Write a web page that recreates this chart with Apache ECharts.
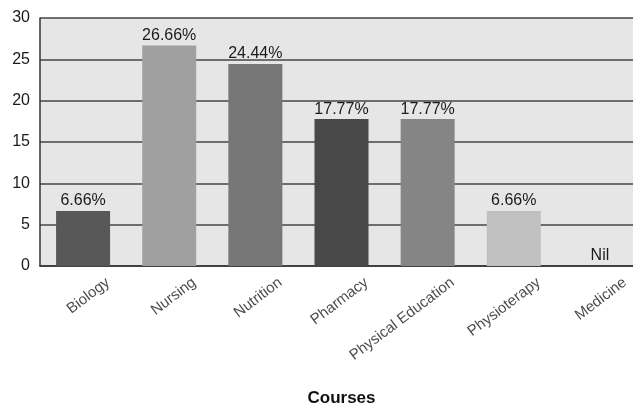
<!DOCTYPE html>
<html>
<head>
<meta charset="utf-8">
<script src="https://cdn.jsdelivr.net/npm/echarts@6/dist/echarts.min.js"></script>
<style>
  html, body { margin: 0; padding: 0; background: #ffffff; }
  #chart { width: 633px; height: 407px; }
</style>
</head>
<body>
<div id="chart"></div>
<script>
// Share of students by course (percent)
const courses = ['Biology', 'Nursing', 'Nutrition', 'Pharmacy', 'Physical Education', 'Physioterapy', 'Medicine'];
const shares = [6.66, 26.66, 24.44, 17.77, 17.77, 6.66, 0];
const barColors = ['#585858', '#a0a0a0', '#777777', '#484848', '#858585', '#c0c0c0', '#9a9a9a'];
const yTicks = [0, 5, 10, 15, 20, 25, 30];

const font = 'Liberation Sans, Arial, Helvetica, sans-serif';
const chart = echarts.init(document.getElementById('chart'), null, { renderer: 'canvas' });

// slant of the course names; the label offset is given in the rotated frame,
// so turn the wanted screen shift (right, down) into that frame
const slant = 37;
const shift = [25, 15];
const rad = slant * Math.PI / 180;
const localOffset = [
  shift[0] * Math.cos(rad) - shift[1] * Math.sin(rad),
  shift[0] * Math.sin(rad) + shift[1] * Math.cos(rad)
];

chart.setOption({
  animation: false,
  backgroundColor: '#ffffff',
  grid: {
    left: 40, right: -10, top: 18, bottom: 141,
    outerBoundsMode: 'none', containLabel: false,
    show: true, backgroundColor: '#e6e6e6', borderWidth: 0
  },
  xAxis: {
    type: 'category',
    data: courses,
    name: 'Courses',
    nameLocation: 'middle',
    nameGap: 124,
    nameTextStyle: { fontFamily: font, fontSize: 17, fontWeight: 'bold', color: '#111' },
    axisLine: { show: true, lineStyle: { color: '#333', width: 1.5 } },
    axisTick: { show: false },
    axisLabel: { show: false }
  },
  yAxis: {
    type: 'value',
    min: yTicks[0], max: yTicks[yTicks.length - 1], interval: 5,
    axisLine: { show: true, lineStyle: { color: '#333', width: 1.5 } },
    axisTick: { show: false },
    axisLabel: { fontFamily: font, fontSize: 16, color: '#1a1a1a', margin: 10 },
    splitLine: { show: true, lineStyle: { color: '#444', width: 1.5 } }
  },
  series: [{
    type: 'bar',
    barWidth: 54,
    data: shares.map((v, i) => ({ value: v, itemStyle: { color: barColors[i] } })),
    label: {
      show: true, position: 'top', distance: 2,
      fontFamily: font, fontSize: 16, color: '#1a1a1a',
      formatter: p => p.value === 0 ? 'Nil' : p.value.toFixed(2) + '%'
    }
  }, {
    // slanted course names, hung just below the category axis
    type: 'scatter',
    symbolSize: 0,
    silent: true,
    data: courses.map(c => [c, yTicks[0]]),
    label: {
      show: true, position: 'inside', rotate: slant,
      align: 'right', verticalAlign: 'middle',
      offset: localOffset,
      fontFamily: font, fontSize: 15, color: '#1a1a1a',
      formatter: p => p.value[0]
    }
  }]
});
</script>
</body>
</html>
